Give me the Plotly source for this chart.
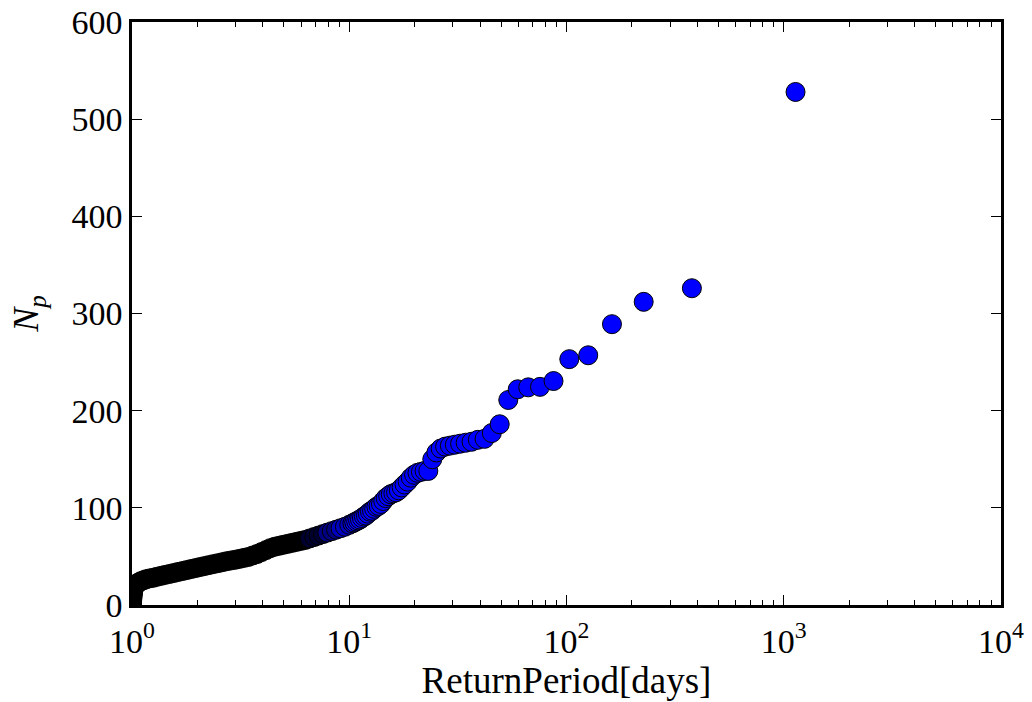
import plotly.graph_objects as go

# Return period (days) of each event and its peak count N_p, ascending in return period
return_period = [
    1.000, 1.001, 1.002, 1.004, 1.006, 1.008, 1.011, 1.015, 1.02, 1.027,
    1.035, 1.045, 1.06, 1.08, 1.10, 1.13, 1.16, 1.20, 1.25, 1.30,
    1.36, 1.42, 1.49, 1.56, 1.63, 1.71, 1.79, 1.87, 1.96, 2.05,
    2.15, 2.25, 2.36, 2.48, 2.60, 2.72, 2.85, 2.99, 3.13, 3.28,
    3.44, 3.60, 3.77, 3.95, 4.14, 4.33, 4.54, 4.76, 4.98, 5.22,
    5.47, 5.73, 6.00, 6.28, 6.58, 6.90, 7.23, 7.57, 7.93, 8.31,
    8.70, 9.12, 9.55, 10.0, 10.34, 10.55, 10.76, 10.98, 11.2, 11.44,
    11.68, 11.93, 12.18, 12.45, 12.73, 13.02, 13.33, 13.65, 13.99, 14.34,
    14.71, 15.11, 15.52, 15.96, 16.42, 16.91, 17.43, 17.98, 18.57, 19.2,
    19.88, 20.6, 21.38, 22.22, 23.12, 24.11, 25.18, 26.35, 27.63, 29.05,
    30.62, 32.37, 34.33, 36.55, 39.07, 41.96, 45.32, 49.26, 53.95, 59.63,
    66.65, 75.53, 87.15, 103.0, 125.9, 161.9, 226.6, 377.7, 1133.0,
]
n_p = [
    1, 3, 5, 7, 9, 11, 13, 15, 17, 19,
    20.5, 21.5, 22.5, 23.5, 24.5, 25.5, 26.5, 27.3, 28, 29,
    30, 31, 32, 33, 34, 35, 36, 37, 38, 39,
    40, 41, 42, 43, 44, 45, 45.8, 46.6, 47.5, 48.5,
    49.5, 51, 52.5, 54.5, 56.5, 58.5, 60, 61, 62, 63,
    64, 65, 66, 67, 68.5, 70, 71.5, 73, 74.5, 76,
    77.5, 79, 80.5, 82.5, 84, 85, 86, 87, 88, 89.5,
    91, 92, 94, 96, 97, 99, 101, 102, 104, 107,
    110, 112, 114, 115, 116, 118, 121, 124, 127, 131,
    134, 136, 137, 138, 138, 150, 157, 161, 163, 164,
    165, 166, 167, 168, 170, 171, 177, 186, 211, 222,
    224, 224.5, 230.5, 253, 257, 289, 312, 326, 528,
]

x_tickvals = [1, 10, 100, 1000, 10000]
x_ticktext = ["10<sup>0</sup>", "10<sup>1</sup>", "10<sup>2</sup>", "10<sup>3</sup>", "10<sup>4</sup>"]
y_tickvals = [0, 100, 200, 300, 400, 500, 600]


# where events crowd together the overlapping outlines read as solid black,
# fading to the plain blue fill as the events thin out
def fill_for(t):
    if t < 6.3:
        return "black"
    if t < 7.6:
        return "#000030"
    if t < 9.0:
        return "#000080"
    if t < 10.5:
        return "#0000c0"
    return "#0000ff"


fill = [fill_for(t) for t in return_period]

minor_vals = [m * 10 ** d for d in range(4) for m in range(2, 10)]

font_family = "Liberation Serif, DejaVu Serif, serif"

fig = go.Figure(
    go.Scatter(
        x=return_period,
        y=n_p,
        mode="markers",
        marker=dict(size=19, color=fill, line=dict(color="black", width=1)),
        showlegend=False,
        cliponaxis=True,
    )
)

axis_common = dict(
    showline=True,
    linecolor="black",
    linewidth=2.5,
    mirror="ticks",
    ticks="inside",
    tickcolor="black",
    tickwidth=1.3,
    ticklen=10,
    showgrid=False,
    zeroline=False,
    tickfont=dict(family=font_family, size=34, color="black"),
)

fig.update_xaxes(
    type="log",
    range=[0, 4],
    tickmode="array",
    tickvals=x_tickvals,
    ticktext=x_ticktext,
    ticklabelstandoff=4,
    minor=dict(tickmode="array", tickvals=minor_vals, ticks="inside", ticklen=5,
               tickwidth=1.1, tickcolor="black", showgrid=False),
    title=dict(text="ReturnPeriod[days]", font=dict(family=font_family, size=37, color="black"),
               standoff=4),
    **axis_common,
)
fig.update_yaxes(
    range=[0, 600],
    tickmode="array",
    tickvals=y_tickvals,
    title=dict(text="<i>N</i><sub><i>p</i></sub>", font=dict(family=font_family, size=36, color="black"),
               standoff=22),
    **axis_common,
)

fig.update_layout(
    width=1032,
    height=702,
    margin=dict(l=132, r=31, t=22, b=97, autoexpand=False),
    plot_bgcolor="white",
    paper_bgcolor="white",
)

fig.write_html("out.html")
